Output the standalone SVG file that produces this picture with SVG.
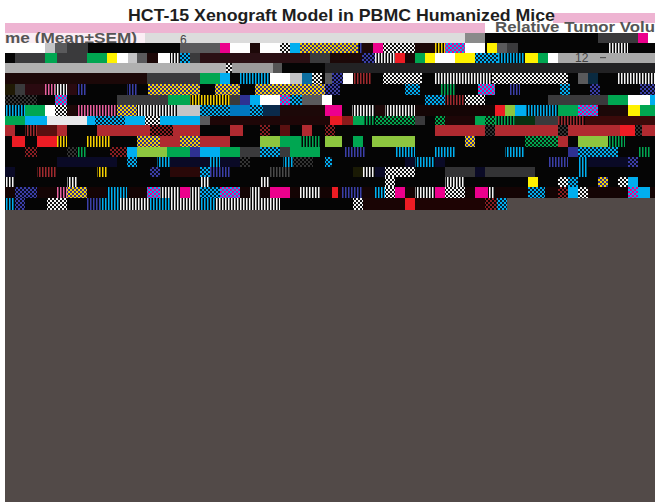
<svg xmlns="http://www.w3.org/2000/svg" width="655" height="502" viewBox="0 0 655 502">
<defs>
<pattern id="sW" width="3" height="12" patternUnits="userSpaceOnUse"><rect width="3" height="12" fill="#050505"/><rect width="1.5" height="12" fill="#f4f4f4"/></pattern>
<pattern id="sC" width="3" height="12" patternUnits="userSpaceOnUse"><rect width="3" height="12" fill="#050505"/><rect width="1.5" height="12" fill="#00aeef"/></pattern>
<pattern id="sB" width="3" height="12" patternUnits="userSpaceOnUse"><rect width="3" height="12" fill="#050505"/><rect width="1.5" height="12" fill="#3b3fa8"/></pattern>
<pattern id="sY" width="3" height="12" patternUnits="userSpaceOnUse"><rect width="3" height="12" fill="#050505"/><rect width="1.5" height="12" fill="#f7d000"/></pattern>
<pattern id="sM" width="3" height="12" patternUnits="userSpaceOnUse"><rect width="3" height="12" fill="#050505"/><rect width="1.5" height="12" fill="#e8609e"/></pattern>
<pattern id="sG" width="3" height="12" patternUnits="userSpaceOnUse"><rect width="3" height="12" fill="#050505"/><rect width="1.5" height="12" fill="#00a651"/></pattern>
<pattern id="sR" width="3" height="12" patternUnits="userSpaceOnUse"><rect width="3" height="12" fill="#050505"/><rect width="1.5" height="12" fill="#a02a2e"/></pattern>
<pattern id="sK" width="3" height="12" patternUnits="userSpaceOnUse"><rect width="3" height="12" fill="#050505"/><rect width="1.5" height="12" fill="#4a4a4a"/></pattern>
<pattern id="cW" width="4" height="4" patternUnits="userSpaceOnUse"><rect width="4" height="4" fill="#111"/><rect width="2" height="2" fill="#f4f4f4"/><rect x="2" y="2" width="2" height="2" fill="#f4f4f4"/></pattern>
<pattern id="cC" width="4" height="4" patternUnits="userSpaceOnUse"><rect width="4" height="4" fill="#0a1a2a"/><rect width="2" height="2" fill="#00aeef"/><rect x="2" y="2" width="2" height="2" fill="#00aeef"/></pattern>
<pattern id="cY" width="4" height="4" patternUnits="userSpaceOnUse"><rect width="4" height="4" fill="#2e3192"/><rect width="2" height="2" fill="#f7d000"/><rect x="2" y="2" width="2" height="2" fill="#f7d000"/></pattern>
<pattern id="cM" width="4" height="4" patternUnits="userSpaceOnUse"><rect width="4" height="4" fill="#00aeef"/><rect width="2" height="2" fill="#ec008c"/><rect x="2" y="2" width="2" height="2" fill="#ec008c"/></pattern>
<pattern id="cB" width="4" height="4" patternUnits="userSpaceOnUse"><rect width="4" height="4" fill="#0a0a1a"/><rect width="2" height="2" fill="#3b3fa8"/><rect x="2" y="2" width="2" height="2" fill="#3b3fa8"/></pattern>
<pattern id="cR" width="4" height="4" patternUnits="userSpaceOnUse"><rect width="4" height="4" fill="#050505"/><rect width="2" height="2" fill="#8a1e22"/><rect x="2" y="2" width="2" height="2" fill="#8a1e22"/></pattern>
<pattern id="cK" width="4" height="4" patternUnits="userSpaceOnUse"><rect width="4" height="4" fill="#050505"/><rect width="2" height="2" fill="#333"/><rect x="2" y="2" width="2" height="2" fill="#333"/></pattern>
<pattern id="cG" width="4" height="4" patternUnits="userSpaceOnUse"><rect width="4" height="4" fill="#0a1a0a"/><rect width="2" height="2" fill="#00a651"/><rect x="2" y="2" width="2" height="2" fill="#00a651"/></pattern>
</defs>
<style>
.k{fill:#050505}.dk{fill:#1c0808}.dg{fill:#3a3a3c}.g{fill:#5a5a5c}.lg{fill:#c4c4c6}.w{fill:#ffffff}
.gr{fill:#00a651}.cy{fill:#00aeef}.ye{fill:#fff200}.mg{fill:#ec008c}.rd{fill:#ed1c24}.br{fill:#b02a30}
.lgr{fill:#8dc63f}.bl{fill:#2e3192}.nv{fill:#0a0a26}
.sW{fill:url(#sW)}.sC{fill:url(#sC)}.sB{fill:url(#sB)}.sY{fill:url(#sY)}.sM{fill:url(#sM)}.sG{fill:url(#sG)}.sR{fill:url(#sR)}.sK{fill:url(#sK)}
.cW{fill:url(#cW)}.cC{fill:url(#cC)}.cY{fill:url(#cY)}.cM{fill:url(#cM)}.cB{fill:url(#cB)}.cR{fill:url(#cR)}.cK{fill:url(#cK)}.cG{fill:url(#cG)}
.title{font-family:"Liberation Sans",Arial,sans-serif;font-weight:bold;font-size:17px;fill:#1e1e1e}
.lbl{font-family:"Liberation Sans",Arial,sans-serif;font-weight:bold;fill:#555555}
.tick{font-family:"Liberation Sans",Arial,sans-serif;font-size:12px;fill:#444}
</style>
<rect width="655" height="502" fill="#ffffff"/>
<g id="header">
<rect x="5" y="23" width="480" height="10" fill="#eeb4d2"/>
<rect x="553" y="13" width="102" height="10" fill="#eeb4d2"/>
<text class="title" x="128" y="21" textLength="427" lengthAdjust="spacingAndGlyphs">HCT-15 Xenograft Model in PBMC Humanized Mice</text>
<text class="lbl" x="495" y="32" font-size="14" textLength="160" lengthAdjust="spacingAndGlyphs">Relative Tumor Volu</text>
<rect x="5" y="33" width="140" height="10" fill="#fbeef4"/>
<rect x="145" y="33" width="320" height="10" fill="#dcdcdc"/>
<rect x="465" y="33" width="20" height="10" fill="#8a8a8a"/>
<rect x="485" y="33" width="113" height="10" class="k"/>
<rect x="598" y="33" width="40" height="10" class="dg"/>
<rect x="638" y="33" width="10" height="10" class="mg"/>
<text class="lbl" x="5" y="43" font-size="14" textLength="132" lengthAdjust="spacingAndGlyphs">me (Mean±SEM)</text>
<text class="tick" x="180" y="44">6</text>
</g>
<g id="mosaic">
<g transform="translate(0,43)">
<rect x="5" width="650" height="10" class="k"/>
<rect x="5" width="40" height="10" class="w"/><rect x="45" width="10" height="10" class="lg"/><rect x="55" width="12" height="10" class="g"/><rect x="67" width="21" height="10" class="dg"/>
<rect x="180" width="40" height="10" class="g"/><rect x="220" width="10" height="10" class="mg"/><rect x="230" width="20" height="10" class="w"/><rect x="250" width="10" height="10" class="dk"/><rect x="260" width="20" height="10" class="w"/>
<rect x="280" width="10" height="10" class="cW"/><rect x="290" width="10" height="10" class="cy"/><rect x="300" width="58" height="10" class="cY"/><rect x="358" width="4" height="10" class="sB"/><rect x="362" width="11" height="10" class="dk"/>
<rect x="373" width="10" height="10" class="mg"/><rect x="383" width="32" height="10" class="cW"/><rect x="415" width="20" height="10" class="dk"/><rect x="435" width="10" height="10" class="sY"/><rect x="445" width="20" height="10" class="cM"/>
<rect x="465" width="20" height="10" class="w"/><rect x="487" width="10" height="10" class="ye"/><rect x="497" width="10" height="10" class="g"/><rect x="507" width="11" height="10" class="dg"/><rect x="608" width="20" height="10" class="sW"/>
</g>
<g transform="translate(0,53)">
<rect x="5" width="650" height="10" class="dk"/>
<rect x="5" width="10" height="10" class="k"/><rect x="15" width="30" height="10" class="dg"/><rect x="45" width="12" height="10" class="gr"/><rect x="57" width="30" height="10" class="dg"/><rect x="87" width="20" height="10" class="gr"/>
<rect x="107" width="10" height="10" class="ye"/><rect x="117" width="11" height="10" class="w"/><rect x="128" width="9" height="10" class="lg"/><rect x="137" width="10" height="10" class="g"/><rect x="158" width="12" height="10" class="w"/>
<rect x="170" width="10" height="10" class="sW"/><rect x="180" width="10" height="10" class="cC"/><rect x="190" width="10" height="10" class="dg"/><rect x="200" width="110" height="10" fill="#2a1014"/><rect x="310" width="20" height="10" class="dg"/>
<rect x="362" width="13" height="10" class="cB"/><rect x="375" width="20" height="10" class="sW"/><rect x="395" width="10" height="10" class="rd"/><rect x="415" width="10" height="10" class="gr"/><rect x="425" width="10" height="10" class="ye"/>
<rect x="435" width="20" height="10" class="w"/><rect x="455" width="20" height="10" class="ye"/><rect x="475" width="23" height="10" class="cC"/><rect x="498" width="27" height="10" class="sC"/><rect x="525" width="13" height="10" class="ye"/>
<rect x="538" width="10" height="10" class="gr"/><rect x="548" width="10" height="10" class="w"/><rect x="558" width="97" height="10" fill="#a9a9a9"/>
<text class="tick" x="575" y="9">12</text><rect x="600" y="4" width="6" height="1.2" fill="#555"/>
</g>
<g transform="translate(0,63)">
<rect x="5" width="650" height="10" fill="#222224"/>
<rect x="5" width="221" height="10" fill="#b0b0b0"/><rect x="226" width="6" height="10" class="cW"/><rect x="232" width="41" height="10" fill="#9a9a9a"/><rect x="273" width="9" height="10" fill="#555"/><rect x="282" width="43" height="10" class="k"/>
</g>
<g transform="translate(0,73)">
<rect x="5" width="650" height="11" class="k"/>
<rect x="5" width="142" height="11" class="dk"/><rect x="147" width="53" height="11" class="dg"/><rect x="200" width="20" height="11" class="gr"/><rect x="220" width="10" height="11" class="cy"/><rect x="240" width="30" height="11" class="sC"/>
<rect x="270" width="20" height="11" class="w"/><rect x="290" width="12" height="11" class="lg"/><rect x="302" width="10" height="11" fill="#0d6fa0"/><rect x="312" width="10" height="11" class="cW"/><rect x="325" width="7" height="11" class="g"/>
<rect x="332" width="11" height="11" class="cB"/><rect x="343" width="10" height="11" class="w"/><rect x="353" width="19" height="11" class="sR"/><rect x="383" width="39" height="11" class="cW"/><rect x="435" width="57" height="11" class="sW"/>
<rect x="492" width="76" height="11" class="cW"/><rect x="578" width="10" height="11" class="g"/><rect x="588" width="10" height="11" fill="#0a2a40"/><rect x="618" width="37" height="11" class="sW"/>
</g>
<g transform="translate(0,84)">
<rect x="5" width="650" height="11" class="k"/>
<rect x="5" width="10" height="11" fill="#201a05"/><rect x="15" width="10" height="11" class="dg"/><rect x="25" width="20" height="11" fill="#2a0a10"/><rect x="45" width="10" height="11" class="sM"/><rect x="55" width="12" height="11" class="sW"/>
<rect x="67" width="10" height="11" fill="#2a0a10"/><rect x="77" width="10" height="11" class="sB"/><rect x="127" width="10" height="11" class="sB"/><rect x="148" width="52" height="11" class="cY"/><rect x="215" width="25" height="11" class="cY"/>
<rect x="255" width="75" height="11" class="cY"/><rect x="325" width="15" height="11" class="cB"/><rect x="405" width="15" height="11" class="cC"/><rect x="440" width="15" height="11" class="sG"/><rect x="478" width="17" height="11" class="cM"/>
<rect x="510" width="10" height="11" class="sB"/><rect x="560" width="10" height="11" class="cC"/><rect x="590" width="10" height="11" class="cB"/><rect x="640" width="15" height="11" class="cB"/>
</g>
<g transform="translate(0,95)">
<rect x="5" width="650" height="10" class="k"/>
<rect x="5" width="32" height="10" class="cK"/><rect x="55" width="12" height="10" class="cM"/><rect x="117" width="51" height="10" class="dg"/><rect x="168" width="22" height="10" class="gr"/><rect x="190" width="40" height="10" class="sY"/>
<rect x="230" width="10" height="10" class="dg"/><rect x="240" width="10" height="10" class="bl"/><rect x="250" width="10" height="10" class="cy"/><rect x="260" width="20" height="10" class="w"/><rect x="280" width="10" height="10" class="cM"/>
<rect x="290" width="12" height="10" class="cC"/><rect x="302" width="20" height="10" class="g"/><rect x="322" width="10" height="10" class="w"/><rect x="425" width="20" height="10" class="cC"/><rect x="445" width="20" height="10" class="sR"/>
<rect x="465" width="20" height="10" class="cW"/><rect x="548" width="60" height="10" class="dg"/><rect x="608" width="20" height="10" class="gr"/><rect x="628" width="22" height="10" class="w"/><rect x="650" width="5" height="10" class="cy"/>
</g>
<g transform="translate(0,105)">
<rect x="5" width="650" height="11" class="dk"/>
<rect x="5" width="20" height="11" class="sC"/><rect x="25" width="20" height="11" class="gr"/><rect x="45" width="10" height="11" class="w"/><rect x="55" width="12" height="11" class="cW"/><rect x="77" width="40" height="11" class="sM"/>
<rect x="117" width="20" height="11" class="cY"/><rect x="137" width="40" height="11" class="sW"/><rect x="177" width="23" height="11" class="lg"/><rect x="200" width="30" height="11" class="cC"/><rect x="230" width="20" height="11" fill="#0077c0"/>
<rect x="250" width="13" height="11" class="cC"/><rect x="263" width="17" height="11" fill="#0a2a4a"/><rect x="325" width="17" height="11" class="mg"/><rect x="342" width="10" height="11" class="k"/><rect x="352" width="23" height="11" class="sW"/>
<rect x="385" width="30" height="11" class="sW"/><rect x="415" width="80" height="11" fill="#140505"/><rect x="495" width="10" height="11" class="rd"/><rect x="505" width="10" height="11" class="lgr"/><rect x="515" width="10" height="11" class="cy"/>
<rect x="525" width="33" height="11" class="sC"/><rect x="558" width="20" height="11" class="gr"/><rect x="578" width="20" height="11" class="cM"/><rect x="628" width="12" height="11" class="ye"/><rect x="640" width="15" height="11" class="gr"/>
</g>
<g transform="translate(0,116)">
<rect x="5" width="650" height="9" fill="#1e0607"/>
<rect x="5" width="20" height="9" class="gr"/><rect x="25" width="22" height="9" class="cy"/><rect x="47" width="40" height="9" fill="#e8e8ea"/><rect x="87" width="113" height="9" class="cy"/><rect x="95" width="30" height="9" class="cC"/>
<rect x="145" width="15" height="9" class="cW"/><rect x="200" width="10" height="9" class="g"/><rect x="330" width="12" height="9" class="rd"/><rect x="342" width="11" height="9" fill="#8a1a1a"/><rect x="353" width="10" height="9" class="gr"/>
<rect x="363" width="12" height="9" class="sG"/><rect x="375" width="40" height="9" class="cG"/><rect x="415" width="10" height="9" class="dg"/><rect x="425" width="10" height="9" class="k"/><rect x="435" width="10" height="9" class="cG"/>
<rect x="475" width="10" height="9" class="gr"/><rect x="485" width="10" height="9" class="cG"/><rect x="495" width="20" height="9" class="sG"/><rect x="515" width="20" height="9" fill="#0a3010"/><rect x="535" width="23" height="9" class="dg"/>
<rect x="558" width="27" height="9" class="sR"/><rect x="585" width="70" height="9" fill="#3a0a0a"/>
</g>
<g transform="translate(0,125)">
<rect x="5" width="650" height="11" class="k"/>
<rect x="5" width="10" height="11" class="br"/><rect x="25" width="12" height="11" class="sR"/><rect x="37" width="20" height="11" fill="#5a1010"/><rect x="57" width="10" height="11" class="br"/><rect x="97" width="103" height="11" class="br"/>
<rect x="150" width="23" height="11" class="cR"/><rect x="230" width="13" height="11" class="br"/><rect x="260" width="10" height="11" class="cR"/><rect x="280" width="10" height="11" fill="#5a1010"/><rect x="302" width="10" height="11" class="br"/>
<rect x="325" width="10" height="11" class="cR"/><rect x="435" width="220" height="11" class="br"/><rect x="485" width="10" height="11" class="cK"/><rect x="558" width="10" height="11" class="cK"/><rect x="620" width="15" height="11" class="rd"/><rect x="635" width="7" height="11" class="cK"/>
</g>
<g transform="translate(0,136)">
<rect x="5" width="650" height="11" class="k"/>
<rect x="12" width="13" height="11" class="rd"/><rect x="37" width="20" height="11" class="rd"/><rect x="57" width="10" height="11" class="sY"/><rect x="87" width="23" height="11" class="sY"/><rect x="137" width="23" height="11" class="cY"/>
<rect x="160" width="20" height="11" class="br"/><rect x="180" width="20" height="11" class="cY"/><rect x="200" width="30" height="11" class="br"/><rect x="260" width="20" height="11" class="lgr"/><rect x="280" width="20" height="11" class="gr"/>
<rect x="300" width="20" height="11" class="sG"/><rect x="325" width="17" height="11" class="lgr"/><rect x="353" width="10" height="11" class="gr"/><rect x="372" width="43" height="11" class="lgr"/><rect x="465" width="10" height="11" class="cY"/>
<rect x="525" width="33" height="11" class="cG"/><rect x="558" width="10" height="11" class="br"/><rect x="578" width="30" height="11" class="lgr"/><rect x="608" width="17" height="11" class="sG"/>
</g>
<g transform="translate(0,147)">
<rect x="5" width="650" height="10" class="k"/>
<rect x="25" width="12" height="10" class="cR"/><rect x="67" width="10" height="10" class="cK"/><rect x="77" width="10" height="10" class="sG"/><rect x="110" width="17" height="10" class="cR"/><rect x="127" width="10" height="10" class="cy"/>
<rect x="137" width="30" height="10" class="lgr"/><rect x="167" width="23" height="10" class="gr"/><rect x="190" width="10" height="10" class="bl"/><rect x="200" width="20" height="10" class="cy"/><rect x="220" width="20" height="10" class="gr"/>
<rect x="240" width="20" height="10" class="dg"/><rect x="260" width="20" height="10" class="cC"/><rect x="280" width="10" height="10" class="dg"/><rect x="290" width="30" height="10" class="gr"/><rect x="345" width="20" height="10" class="sB"/>
<rect x="395" width="20" height="10" class="sC"/><rect x="435" width="20" height="10" class="sC"/><rect x="505" width="20" height="10" class="sC"/><rect x="568" width="10" height="10" class="bl"/><rect x="578" width="40" height="10" class="cC"/><rect x="638" width="12" height="10" class="sG"/>
</g>
<g transform="translate(0,157)">
<rect x="5" width="650" height="10" class="k"/>
<rect x="57" width="60" height="10" class="nv"/><rect x="127" width="10" height="10" class="cC"/><rect x="157" width="13" height="10" class="sC"/><rect x="170" width="40" height="10" class="nv"/><rect x="210" width="10" height="10" class="sC"/>
<rect x="220" width="20" height="10" class="nv"/><rect x="240" width="10" height="10" class="cK"/><rect x="283" width="10" height="10" class="sC"/><rect x="293" width="20" height="10" class="cK"/><rect x="325" width="7" height="10" class="cC"/>
<rect x="405" width="40" height="10" class="nv"/><rect x="415" width="20" height="10" class="sC"/><rect x="548" width="20" height="10" class="sB"/><rect x="578" width="10" height="10" class="sC"/><rect x="588" width="40" height="10" class="nv"/><rect x="628" width="10" height="10" class="cB"/>
</g>
<g transform="translate(0,167)">
<rect x="5" width="650" height="10" class="k"/>
<rect x="5" width="10" height="10" class="nv"/><rect x="37" width="20" height="10" class="sR"/><rect x="97" width="10" height="10" class="sY"/><rect x="150" width="10" height="10" class="cB"/><rect x="170" width="30" height="10" fill="#2a0808"/>
<rect x="200" width="10" height="10" class="cC"/><rect x="210" width="20" height="10" class="sB"/><rect x="270" width="20" height="10" class="sK"/><rect x="353" width="10" height="10" fill="#1a1a05"/><rect x="363" width="12" height="10" class="sW"/>
<rect x="375" width="10" height="10" class="nv"/><rect x="385" width="30" height="10" class="cW"/><rect x="445" width="30" height="10" fill="#333335"/><rect x="475" width="10" height="10" class="nv"/><rect x="485" width="50" height="10" fill="#333335"/><rect x="578" width="10" height="10" class="sC"/>
</g>
<g transform="translate(0,177)">
<rect x="5" width="650" height="10" class="k"/>
<rect x="5" width="10" height="10" class="sW"/><rect x="67" width="10" height="10" class="sW"/><rect x="200" width="10" height="10" class="sW"/><rect x="260" width="10" height="10" class="sW"/><rect x="385" width="10" height="10" class="cW"/>
<rect x="445" width="20" height="10" class="sW"/><rect x="528" width="10" height="10" class="ye"/><rect x="558" width="10" height="10" class="cW"/><rect x="568" width="10" height="10" class="cC"/><rect x="598" width="10" height="10" class="cY"/>
<rect x="618" width="10" height="10" class="cW"/><rect x="628" width="10" height="10" class="cy"/>
</g>
<g transform="translate(0,187)">
<rect x="5" width="650" height="11" fill="#140404"/>
<rect x="15" width="22" height="11" class="cB"/><rect x="57" width="10" height="11" class="sM"/><rect x="67" width="20" height="11" class="cY"/><rect x="107" width="20" height="11" class="sC"/><rect x="147" width="13" height="11" class="cM"/>
<rect x="160" width="40" height="11" class="sW"/><rect x="180" width="10" height="11" class="mg"/><rect x="200" width="20" height="11" class="cC"/><rect x="220" width="20" height="11" class="cM"/><rect x="250" width="10" height="11" class="sW"/>
<rect x="270" width="20" height="11" class="mg"/><rect x="300" width="20" height="11" class="sW"/><rect x="332" width="6" height="11" class="rd"/><rect x="342" width="20" height="11" class="sB"/><rect x="375" width="10" height="11" class="sC"/>
<rect x="385" width="10" height="11" class="cW"/><rect x="395" width="10" height="11" class="mg"/><rect x="415" width="20" height="11" class="sW"/><rect x="435" width="10" height="11" class="mg"/><rect x="445" width="20" height="11" class="cW"/>
<rect x="475" width="13" height="11" class="mg"/><rect x="488" width="7" height="11" class="sW"/><rect x="528" width="17" height="11" class="cC"/><rect x="558" width="10" height="11" class="cR"/><rect x="568" width="10" height="11" class="cy"/>
<rect x="578" width="10" height="11" class="cW"/><rect x="628" width="10" height="11" class="cM"/><rect x="638" width="12" height="11" class="cy"/>
</g>
<g transform="translate(0,198)">
<rect x="5" width="502" height="12" class="k"/>
<rect x="5" width="10" height="12" class="sC"/><rect x="15" width="10" height="12" class="cB"/><rect x="47" width="20" height="12" class="cW"/><rect x="87" width="13" height="12" class="sB"/><rect x="100" width="20" height="12" class="sC"/>
<rect x="120" width="160" height="12" class="sW"/><rect x="150" width="20" height="12" class="sC"/><rect x="200" width="15" height="12" class="sC"/><rect x="353" width="10" height="12" class="cW"/><rect x="363" width="42" height="12" fill="#1a0505"/>
<rect x="405" width="10" height="12" class="rd"/><rect x="415" width="70" height="12" fill="#1e0404"/><rect x="485" width="12" height="12" class="cR"/><rect x="497" width="10" height="12" class="cC"/>
</g>
</g>
<g id="base">
<rect x="507" y="198" width="148" height="12" fill="#524a48"/>
<rect x="5" y="210" width="650" height="292" fill="#524a48"/>
</g>
</svg>
